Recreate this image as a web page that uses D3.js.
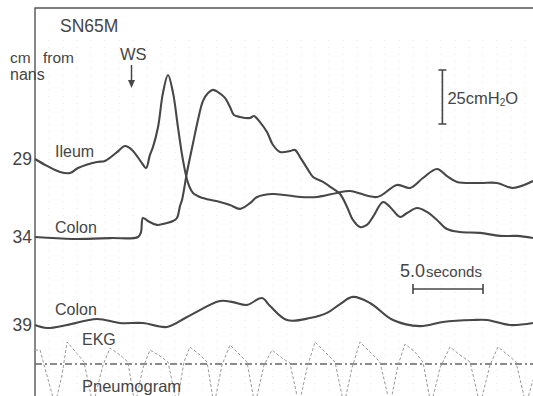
<!DOCTYPE html>
<html>
<head>
<meta charset="utf-8">
<script src="https://cdn.jsdelivr.net/npm/d3@7"></script>
<style>
  body { margin: 0; background: #fff; }
  svg { display: block; }
  text { font-family: "Liberation Sans", Arial, Helvetica, sans-serif; fill: #454545; }
</style>
</head>
<body>
<svg id="chart" width="533" height="396"></svg>
<script>
// Recording sites, cm from nares
const channels = [29, 34, 39];
const channelNames = ["Ileum", "Colon", "Colon"];

// Pressure traces: [time (s), pressure above resting level (cmH2O)]
const ileum29 = [
  [0, 0], [0.86, -3.2], [1.79, -6.0], [2.5, -6.5], [3.07, -4.2], [4.43, -1.4], [5.0, -0.9],
  [5.86, 3.2], [6.43, 6.0], [6.93, 4.2], [7.64, -1.9], [7.93, -4.2], [8.21, 1.9], [8.43, 5.6],
  [8.79, 14.8], [9.14, 30.6], [9.5, 38.9], [9.86, 30.6], [10.21, 14.8], [10.57, -0.5],
  [10.93, -11.1], [11.29, -15.7], [12.0, -18.1], [13.21, -19.9], [13.93, -21.3], [14.64, -23.1],
  [15.36, -20.4], [15.86, -17.6], [17.0, -16.2], [18.93, -17.6], [20.14, -17.6], [21.57, -15.7],
  [22.5, -14.8], [24.43, -17.6], [25.86, -12.0], [26.79, -13.4], [27.71, -8.8], [28.71, -4.6],
  [29.43, -7.9], [30.14, -10.6], [31.79, -11.1], [33.0, -11.1], [34.14, -13.4], [35.57, -10.2]
];
const colon34 = [
  [0, 0], [2.71, -0.9], [5.36, -0.5], [7.36, 0], [7.57, 2.3], [7.71, 8.8], [8.07, 7.4],
  [8.71, 5.6], [9.43, 6.5], [9.86, 7.4], [10.14, 8.8], [10.36, 14.4], [10.5, 17.1], [10.86, 30.1],
  [11.29, 43.5], [11.64, 54.2], [12.0, 63.0], [12.36, 66.7], [12.71, 68.1], [13.07, 67.1],
  [13.57, 64.4], [13.93, 60.2], [14.21, 56.5], [14.64, 55.6], [15.36, 55.1], [15.64, 56.0],
  [16.07, 53.2], [16.57, 48.6], [17.0, 42.6], [17.5, 39.4], [18.21, 39.8], [18.57, 40.3],
  [18.93, 37.0], [19.43, 31.9], [19.86, 27.8], [20.57, 25.5], [21.21, 22.7], [21.79, 19.9],
  [22.29, 13.9], [22.71, 7.9], [23.21, 4.6], [23.71, 5.6], [24.14, 9.3], [24.86, 16.2],
  [25.36, 13.9], [26.07, 9.3], [26.57, 11.1], [27.29, 13.4], [28.0, 11.6], [28.71, 7.9],
  [29.43, 3.7], [30.36, 2.3], [31.79, 1.9], [33.21, 0.5], [34.43, 0.5], [35.57, -0.5]
];
const colon39 = [
  [0, 0], [0.86, -1.4], [2.29, 0], [4.43, 2.8], [6.07, 0.9], [7.71, 0.9], [9.43, -0.9],
  [10.86, 3.7], [13.21, 11.1], [14.14, 10.6], [15.14, 9.3], [16.21, 12.5], [16.79, 8.8],
  [18.0, 2.3], [19.64, 3.2], [20.86, 5.6], [21.79, 9.7], [22.71, 13.0], [23.93, 10.2],
  [25.57, 2.3], [27.5, -0.5], [29.14, 1.4], [31.29, 2.3], [32.29, 2.3], [33.93, 0], [35.57, 0.9]
];
const traces = [ileum29, colon34, colon39];

// Pneumogram: [time (s), relative amplitude]
const pneumogram = [
  [0, 0.65], [0.36, 0.65], [1.43, -2.1], [1.93, -0.6], [2.29, 1.05], [2.79, 0.65], [3.5, 0.05],
  [4.14, -2.1], [4.86, -0.1], [5.36, 0.75], [6.07, 0.4], [6.64, 0.05], [7.14, -2.1], [7.71, -0.25],
  [8.21, 0.65], [8.93, 0.35], [9.5, 0.05], [10.14, -2.1], [10.64, 0.05], [11.07, 0.8],
  [11.79, 0.4], [12.29, 0.05], [12.79, -2.1], [13.36, -0.1], [13.93, 0.9], [14.64, 0.4],
  [15.14, 0.05], [15.71, -2.1], [16.36, -0.1], [16.93, 0.65], [17.64, 0.25], [18.21, 0],
  [18.86, -2.1], [19.43, -0.25], [20.0, 1.05], [20.71, 0.55], [21.43, 0.05], [22.07, -2.1],
  [22.64, -0.25], [23.21, 1.05], [23.93, 0.55], [24.64, 0.05], [25.36, -2.1], [25.93, -0.1],
  [26.43, 0.95], [27.14, 0.55], [27.71, 0.05], [28.29, -2.1], [28.93, -0.25], [29.64, 0.8],
  [30.36, 0.4], [31.07, 0.05], [31.79, -2.1], [32.5, -0.1], [33.07, 0.8], [33.79, 0.4],
  [34.36, 0.05], [35.07, -2.1], [35.57, -0.85]
];

// Calibration marks
const pressureCal = 25;      // cmH2O
const timeCal = [27, 32];    // s
const pressureCalTime = 29.1;

const svg = d3.select("#chart");
const ink = "#474747";

const x = d3.scaleLinear().domain([0, 35.6]).range([35, 533.4]);
const p = d3.scaleLinear().domain([0, 25]).range([0, 54]);
const base = d3.scaleOrdinal().domain(channels).range([159, 237, 325]);
const amp = d3.scaleLinear().domain([0, 1]).range([0, 20]);
const pneuBase = 363;

// faint chart-paper rulings
svg.append("g")
  .selectAll("line")
  .data(d3.range(1, 36))
  .join("line")
  .attr("x1", d => x(d)).attr("x2", d => x(d))
  .attr("y1", 40).attr("y2", 396)
  .attr("stroke", "#d6d6d6")
  .attr("stroke-dasharray", "1,6")
  .attr("opacity", 0.6);

// frame
svg.append("path")
  .attr("d", `M35,396V8H533`)
  .attr("fill", "none")
  .attr("stroke", "#555")
  .attr("stroke-width", 1.4);

// channel axis
const axis = svg.append("g")
  .attr("transform", "translate(35,0)")
  .call(d3.axisLeft(base).tickSize(0).tickPadding(3));
axis.select(".domain").remove();
axis.selectAll("text")
  .attr("font-size", 17.5)
  .attr("fill", "#454545")
  .style("font-family", '"Liberation Sans", Arial, sans-serif');

// pressure traces
traces.forEach((data, i) => {
  const c = channels[i];
  const line = d3.line()
    .x(d => x(d[0]))
    .y(d => base(c) - p(d[1]))
    .curve(d3.curveCatmullRom.alpha(0.5));
  svg.append("path")
    .datum(data)
    .attr("d", line)
    .attr("fill", "none")
    .attr("stroke", ink)
    .attr("stroke-width", 2.1)
    .attr("stroke-linejoin", "round");
});

// EKG baseline
svg.append("line")
  .attr("x1", x(0)).attr("x2", x(35.6))
  .attr("y1", pneuBase + 1).attr("y2", pneuBase + 1)
  .attr("stroke", "#666")
  .attr("stroke-width", 1.3)
  .attr("stroke-dasharray", "7,3,2,3");

// pneumogram
svg.append("path")
  .datum(pneumogram)
  .attr("d", d3.line().x(d => x(d[0])).y(d => pneuBase - amp(d[1])))
  .attr("fill", "none")
  .attr("stroke", "#9a9a9a")
  .attr("stroke-width", 1)
  .attr("stroke-dasharray", "3,2");

// trace labels
const labelY = [157, 233, 315];
channelNames.forEach((n, i) => {
  svg.append("text").attr("x", 55).attr("y", labelY[i]).attr("font-size", 16).text(n);
});
svg.append("text").attr("x", 82).attr("y", 345).attr("font-size", 16).text("EKG");
svg.append("text").attr("x", 82).attr("y", 392).attr("font-size", 16.5).text("Pneumogram");

// header
svg.append("text").attr("x", 60).attr("y", 32).attr("font-size", 17.5).text("SN65M");
svg.append("text").attr("x", 10).attr("y", 63).attr("font-size", 15.5).attr("word-spacing", 8).text("cm from");
svg.append("text").attr("x", 10).attr("y", 80).attr("font-size", 16).text("nans");

// WS marker
svg.append("text").attr("x", 120).attr("y", 60).attr("font-size", 16.5).text("WS");
svg.append("line")
  .attr("x1", 131.5).attr("x2", 131.5).attr("y1", 65).attr("y2", 82)
  .attr("stroke", ink).attr("stroke-width", 1.5);
svg.append("path")
  .attr("d", "M128,80L131.5,88L135,80Z")
  .attr("fill", ink);

// pressure calibration
const cx = x(pressureCalTime);
const calBottom = 124;
svg.append("path")
  .attr("d", `M${cx - 4},${calBottom}H${cx + 4}M${cx},${calBottom}V${calBottom - p(pressureCal)}M${cx - 4},${calBottom - p(pressureCal)}H${cx + 4}`)
  .attr("stroke", ink).attr("stroke-width", 1.6).attr("fill", "none");
const calText = svg.append("text").attr("x", cx + 5).attr("y", 104).attr("font-size", 16.5);
calText.append("tspan").text(pressureCal + "cmH");
calText.append("tspan").attr("font-size", 10).attr("dy", 2).text("2");
calText.append("tspan").attr("dy", -2).text("O");

// time calibration
const tb = 289;
svg.append("path")
  .attr("d", `M${x(timeCal[0])},${tb - 5}V${tb + 5}M${x(timeCal[0])},${tb}H${x(timeCal[1])}M${x(timeCal[1])},${tb - 5}V${tb + 5}`)
  .attr("stroke", ink).attr("stroke-width", 1.6).attr("fill", "none");
const tt = svg.append("text").attr("x", 400).attr("y", 277);
tt.append("tspan").attr("font-size", 18).text((timeCal[1] - timeCal[0]).toFixed(1));
tt.append("tspan").attr("font-size", 15).attr("dx", 1).text("seconds");
</script>
</body>
</html>
